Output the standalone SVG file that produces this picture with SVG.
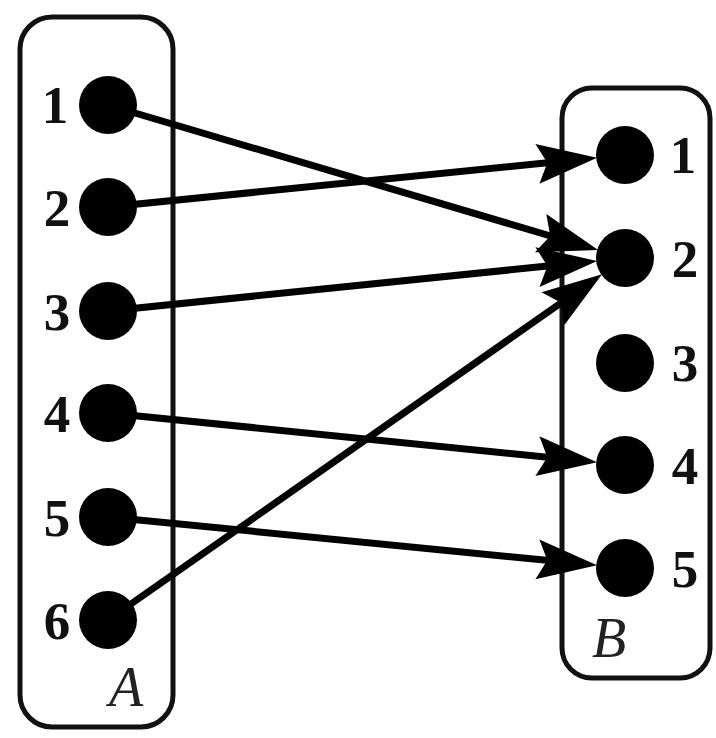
<svg xmlns="http://www.w3.org/2000/svg" width="716" height="738" viewBox="0 0 716 738">
  <style>
    .box { fill: none; stroke: #111; stroke-width: 5; }
    .dot { fill: #000; }
    .num { font-family: "Liberation Serif", "Times New Roman", serif; font-weight: bold; font-size: 53px; fill: #111; text-anchor: middle; }
    .set { font-family: "Liberation Serif", "Times New Roman", serif; font-style: italic; font-size: 56px; fill: #222; text-anchor: middle; }
    .edge { fill: none; stroke: #000; stroke-width: 7; }
  </style>
  <defs>
    <marker id="arrow" markerUnits="userSpaceOnUse" orient="auto" refX="-25" refY="0" markerWidth="1" markerHeight="1" overflow="visible">
      <path d="M0,0 L-60,-20 L-50,0 L-60,20 Z" fill="#000"/>
    </marker>
  </defs>
  <rect fill="#fff" x="0" y="0" width="716" height="738"/>
  <g id="setA">
    <rect class="box" x="20" y="17" width="153" height="710" rx="32" ry="32"/>
    <text class="set" x="126" y="706">A</text>
  </g>
  <g id="setB">
    <rect class="box" x="562" y="88" width="148" height="590" rx="30" ry="30"/>
    <text class="set" x="609" y="657">B</text>
  </g>
  <g id="connectors">
    <line class="edge" x1="108" y1="105" x2="574.2" y2="243.0" marker-end="url(#arrow)"/>
    <line class="edge" x1="108" y1="207" x2="572.2" y2="160.3" marker-end="url(#arrow)"/>
    <line class="edge" x1="108" y1="311" x2="572.3" y2="263.5" marker-end="url(#arrow)"/>
    <line class="edge" x1="108" y1="413" x2="572.2" y2="459.7" marker-end="url(#arrow)"/>
    <line class="edge" x1="108" y1="517" x2="572.2" y2="562.8" marker-end="url(#arrow)"/>
    <line class="edge" x1="108" y1="620" x2="581.6" y2="288.5" marker-end="url(#arrow)"/>
  </g>
  <g id="a1"><circle class="dot" cx="108" cy="105" r="29"/><text class="num" x="55" y="123">1</text></g>
  <g id="a2"><circle class="dot" cx="108" cy="207" r="29"/><text class="num" x="57" y="226">2</text></g>
  <g id="a3"><circle class="dot" cx="108" cy="311" r="29"/><text class="num" x="57" y="330">3</text></g>
  <g id="a4"><circle class="dot" cx="108" cy="413" r="29"/><text class="num" x="57" y="432">4</text></g>
  <g id="a5"><circle class="dot" cx="108" cy="517" r="29"/><text class="num" x="57" y="536">5</text></g>
  <g id="a6"><circle class="dot" cx="108" cy="620" r="29"/><text class="num" x="57" y="639">6</text></g>
  <g id="b1"><circle class="dot" cx="625" cy="155" r="29"/><text class="num" x="683" y="173">1</text></g>
  <g id="b2"><circle class="dot" cx="625" cy="258" r="29"/><text class="num" x="685" y="277">2</text></g>
  <g id="b3"><circle class="dot" cx="625" cy="363" r="29"/><text class="num" x="685" y="381">3</text></g>
  <g id="b4"><circle class="dot" cx="625" cy="465" r="29"/><text class="num" x="685" y="484">4</text></g>
  <g id="b5"><circle class="dot" cx="625" cy="568" r="29"/><text class="num" x="685" y="587">5</text></g>
</svg>
